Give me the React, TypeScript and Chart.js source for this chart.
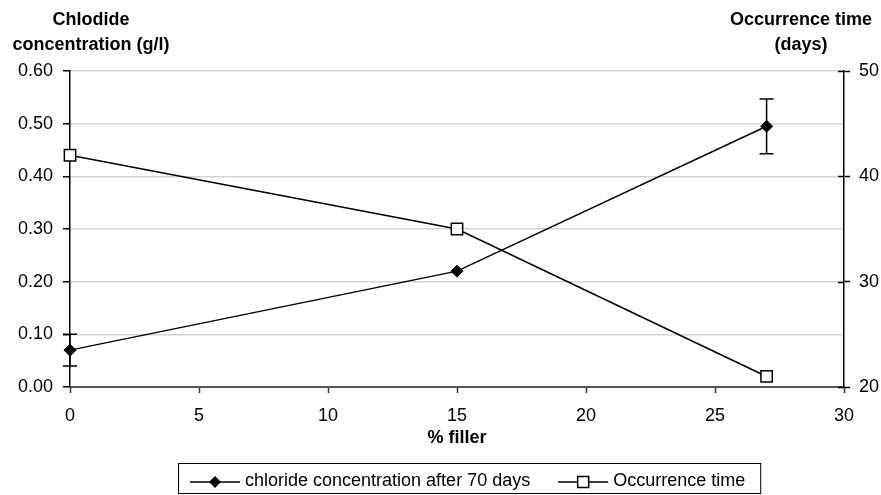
import React, { useEffect, useRef } from "react";
import { Chart, registerables } from "chart.js";

Chart.register(...registerables);

const fillerPct = [0, 15, 27];
const chlorideConc = [0.07, 0.22, 0.495];
const chlorideErr = [0.03, 0, 0.052];
const occurrenceTime = [42, 35, 21];
const seriesLabels = ["chloride concentration after 70 days", "Occurrence time"];
const leftTitle = ["Chlodide", "concentration (g/l)"];
const rightTitle = ["Occurrence time", "(days)"];
const xTitle = "% filler";
const xTicks = { min: 0, max: 30, step: 5 };
const yTicks = { min: 0, max: 0.6, step: 0.1 };
const y1Ticks = { min: 20, max: 50, step: 10 };

const FONT = "'Liberation Sans', Arial, Helvetica, sans-serif";

export default function App() {
  const ref = useRef<HTMLCanvasElement>(null);

  useEffect(() => {
    const canvas = ref.current;
    if (!canvas) return;

    const overlay = {
      id: "overlay",
      beforeDatasetsDraw(chart: any) {
        const ctx = chart.ctx;
        const xs = chart.scales.x;
        const ys = chart.scales.y;
        ctx.save();
        ctx.strokeStyle = "#000";
        ctx.lineWidth = 1.5;
        fillerPct.forEach((f, i) => {
          const e = chlorideErr[i];
          if (!e) return;
          const px = xs.getPixelForValue(f);
          const yt = ys.getPixelForValue(chlorideConc[i] + e);
          const yb = ys.getPixelForValue(chlorideConc[i] - e);
          ctx.beginPath();
          ctx.moveTo(px, yt);
          ctx.lineTo(px, yb);
          ctx.moveTo(px - 7, yt);
          ctx.lineTo(px + 7, yt);
          ctx.moveTo(px - 7, yb);
          ctx.lineTo(px + 7, yb);
          ctx.stroke();
        });
        ctx.restore();
      },
      afterDraw(chart: any) {
        const ctx = chart.ctx;
        const ca = chart.chartArea;
        const y1 = chart.scales.y1;
        ctx.save();
        // inner half of crossing ticks on right axis
        ctx.strokeStyle = "#000";
        ctx.lineWidth = 1.5;
        y1.ticks.forEach((t: any) => {
          const py = Math.round(y1.getPixelForValue(t.value)) + 0.5;
          ctx.beginPath();
          ctx.moveTo(ca.right - 6, py);
          ctx.lineTo(ca.right, py);
          ctx.stroke();
        });

        // titles
        ctx.fillStyle = "#000";
        ctx.textAlign = "center";
        ctx.textBaseline = "alphabetic";
        ctx.font = `bold 18px ${FONT}`;
        leftTitle.forEach((s, i) => ctx.fillText(s, 91, 25 + 25 * i));
        rightTitle.forEach((s, i) => ctx.fillText(s, 801, 25 + 25 * i));
        ctx.fillText(xTitle, (ca.left + ca.right) / 2, 443);

        // legend
        ctx.font = `18px ${FONT}`;
        const w1 = ctx.measureText(seriesLabels[0]).width;
        const w2 = ctx.measureText(seriesLabels[1]).width;
        const sample = 50;
        const gapText = 5;
        const itemGap = 28;
        const pad = 12;
        const boxLeft = 178;
        const boxTop = 463;
        const boxBottom = 493;
        const s1 = boxLeft + pad;
        const t1 = s1 + sample + gapText;
        const s2 = t1 + w1 + itemGap;
        const t2 = s2 + sample + gapText;
        const boxRight = t2 + w2 + 15;
        const ly = 482;

        ctx.fillStyle = "#fff";
        ctx.fillRect(boxLeft, boxTop, boxRight - boxLeft, boxBottom - boxTop);
        ctx.strokeStyle = "#000";
        ctx.lineWidth = 1;
        ctx.strokeRect(boxLeft + 0.5, boxTop + 0.5, boxRight - boxLeft, boxBottom - boxTop);

        ctx.lineWidth = 1.5;
        ctx.beginPath();
        ctx.moveTo(s1, ly);
        ctx.lineTo(s1 + sample, ly);
        ctx.moveTo(s2, ly);
        ctx.lineTo(s2 + sample, ly);
        ctx.stroke();

        // diamond
        const c1 = s1 + sample / 2;
        ctx.fillStyle = "#000";
        ctx.beginPath();
        ctx.moveTo(c1, ly - 6);
        ctx.lineTo(c1 + 6, ly);
        ctx.lineTo(c1, ly + 6);
        ctx.lineTo(c1 - 6, ly);
        ctx.closePath();
        ctx.fill();

        // square
        const c2 = s2 + sample / 2;
        ctx.fillStyle = "#fff";
        ctx.fillRect(c2 - 5.5, ly - 5.5, 11, 11);
        ctx.strokeRect(c2 - 5.5, ly - 5.5, 11, 11);

        ctx.fillStyle = "#000";
        ctx.textAlign = "left";
        ctx.textBaseline = "alphabetic";
        ctx.fillText(seriesLabels[0], t1, 486);
        ctx.fillText(seriesLabels[1], t2, 486);
        ctx.restore();
      },
    };

    const chart = new Chart(canvas, {
      type: "line",
      data: {
        datasets: [
          {
            label: seriesLabels[0],
            data: fillerPct.map((x, i) => ({ x, y: chlorideConc[i] })),
            yAxisID: "y",
            borderColor: "#000",
            borderWidth: 1.5,
            pointStyle: "rectRot",
            pointRadius: 6,
            pointBackgroundColor: "#000",
            pointBorderColor: "#000",
            pointBorderWidth: 1,
            clip: false,
            tension: 0,
          },
          {
            label: seriesLabels[1],
            data: fillerPct.map((x, i) => ({ x, y: occurrenceTime[i] })),
            yAxisID: "y1",
            borderColor: "#000",
            borderWidth: 1.5,
            pointStyle: "rect",
            pointRadius: 8,
            pointBackgroundColor: "#fff",
            pointBorderColor: "#000",
            pointBorderWidth: 1.5,
            clip: false,
            tension: 0,
          },
        ],
      },
      options: {
        responsive: false,
        animation: false,
        events: [],
        layout: { padding: { top: 71, left: 0, right: 0, bottom: 0 } },
        plugins: {
          legend: { display: false },
          tooltip: { enabled: false },
          title: { display: false },
        },
        scales: {
          x: {
            type: "linear",
            min: xTicks.min,
            max: xTicks.max,
            afterFit: (s: any) => {
              s.height = 108;
            },
            ticks: {
              stepSize: xTicks.step,
              color: "#000",
              font: { family: FONT, size: 18 },
              padding: 12,
              maxRotation: 0,
            },
            grid: {
              drawOnChartArea: false,
              drawTicks: true,
              tickLength: 6,
              tickColor: "#333",
              tickWidth: 1.5,
            },
            border: { display: true, color: "#555", width: 2 },
          },
          y: {
            type: "linear",
            position: "left",
            min: yTicks.min,
            max: yTicks.max,
            afterFit: (s: any) => {
              s.width = 70;
            },
            ticks: {
              stepSize: yTicks.step,
              color: "#000",
              font: { family: FONT, size: 18 },
              padding: 10,
              callback: (v: any) => Number(v).toFixed(2),
            },
            grid: {
              color: "#d4d4d4",
              lineWidth: 1.5,
              drawTicks: true,
              tickLength: 7,
              tickColor: "#000",
            },
            border: { display: true, color: "#000", width: 1.5 },
          },
          y1: {
            type: "linear",
            position: "right",
            min: y1Ticks.min,
            max: y1Ticks.max,
            afterFit: (s: any) => {
              s.width = 37;
            },
            ticks: {
              stepSize: y1Ticks.step,
              color: "#000",
              font: { family: FONT, size: 18 },
              padding: 9,
            },
            grid: {
              drawOnChartArea: false,
              drawTicks: true,
              tickLength: 6,
              tickColor: "#000",
              tickWidth: 1.5,
            },
            border: { display: true, color: "#000", width: 1.5 },
          },
        },
      },
      plugins: [overlay],
    } as any);

    return () => chart.destroy();
  }, []);

  return (
    <div style={{ position: "fixed", left: 0, top: 0, width: 881, height: 495, background: "#fff" }}>
      <canvas ref={ref} width={881} height={495} style={{ display: "block", width: 881, height: 495 }} />
    </div>
  );
}
